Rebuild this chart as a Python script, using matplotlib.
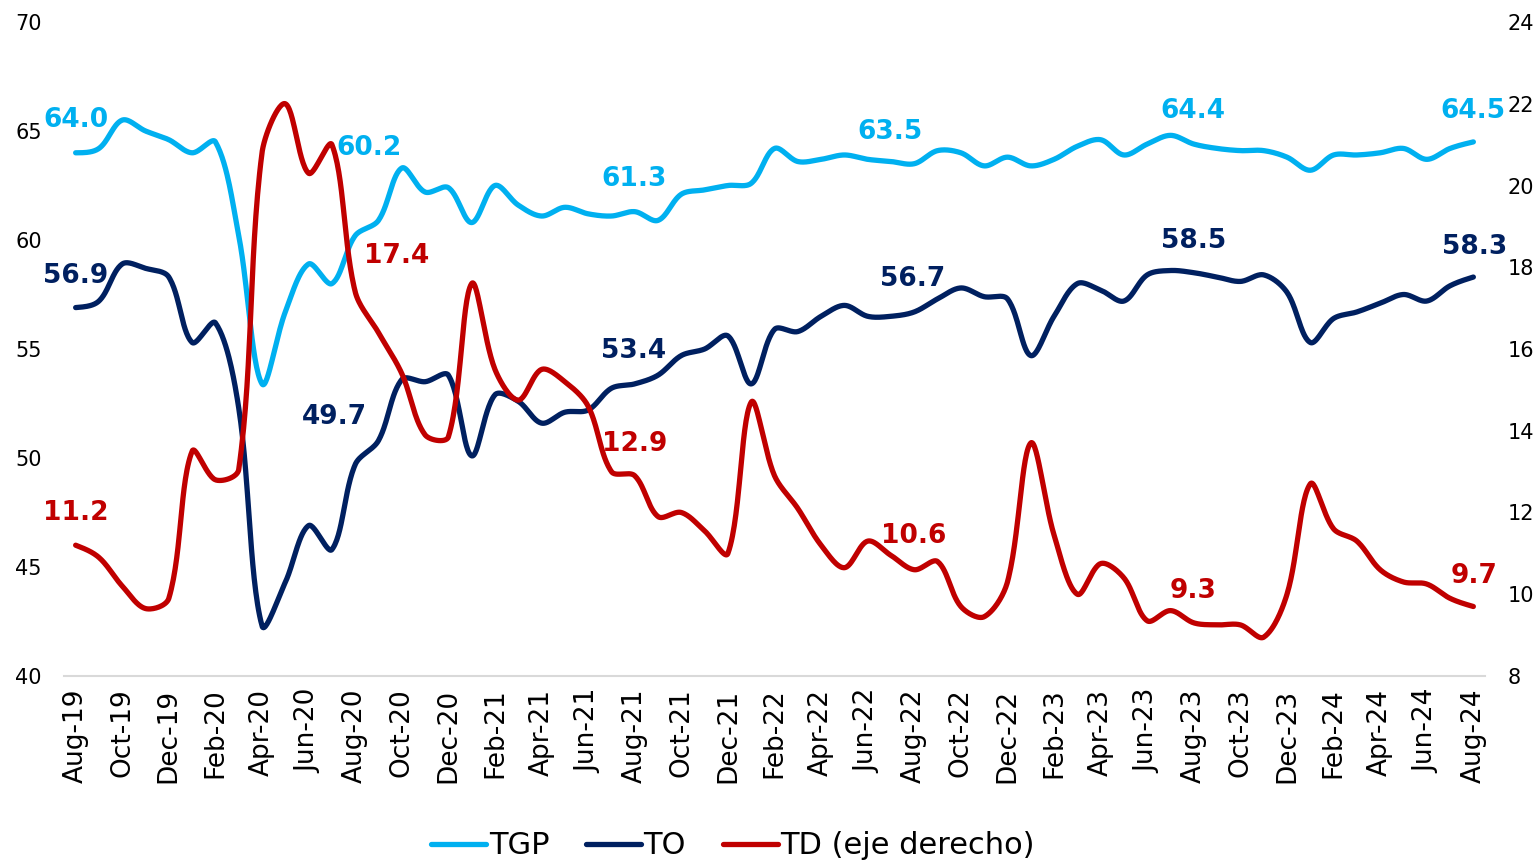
import matplotlib
matplotlib.use("Agg")
import matplotlib.pyplot as plt
import numpy as np

# monthly series, Aug-19 .. Aug-24
tgp = [64.0, 64.2, 65.5, 65.0, 64.6, 64.0, 64.5, 60.2, 53.4, 56.7,
       58.9, 58.0, 60.2, 60.9, 63.3, 62.2, 62.4, 60.8, 62.5, 61.6,
       61.1, 61.5, 61.2, 61.1, 61.3, 60.9, 62.1, 62.3, 62.5, 62.6,
       64.2, 63.6, 63.7, 63.9, 63.7, 63.6, 63.5, 64.1, 64.0, 63.4,
       63.8, 63.4, 63.7, 64.3, 64.6, 63.9, 64.4, 64.8, 64.4, 64.2,
       64.1, 64.1, 63.8, 63.2, 63.9, 63.9, 64.0, 64.2, 63.7, 64.2,
       64.5]
to = [56.9, 57.2, 58.9, 58.7, 58.3, 55.3, 56.2, 52.3, 42.3, 44.3,
      46.9, 45.8, 49.7, 50.8, 53.6, 53.5, 53.8, 50.1, 52.9, 52.6,
      51.6, 52.1, 52.2, 53.2, 53.4, 53.8, 54.7, 55.0, 55.6, 53.4,
      55.9, 55.8, 56.5, 57.0, 56.5, 56.5, 56.7, 57.3, 57.8, 57.4,
      57.3, 54.7, 56.5, 58.0, 57.7, 57.2, 58.4, 58.6, 58.5, 58.3,
      58.1, 58.4, 57.6, 55.3, 56.4, 56.7, 57.1, 57.5, 57.2, 57.9,
      58.3]
td = [11.2, 10.9, 10.2, 9.65, 9.9, 13.5, 12.8, 13.05, 20.8, 22.0,
      20.3, 21.0, 17.4, 16.4, 15.4, 13.9, 13.85, 17.6, 15.5, 14.75,
      15.5, 15.2, 14.6, 13.0, 12.9, 11.9, 12.0, 11.55, 11.0, 14.7,
      12.9, 12.1, 11.2, 10.65, 11.3, 10.95, 10.6, 10.8, 9.7, 9.45,
      10.3, 13.7, 11.45, 10.0, 10.75, 10.4, 9.35, 9.6, 9.3, 9.25,
      9.25, 8.95, 10.0, 12.7, 11.6, 11.3, 10.6, 10.3, 10.25, 9.9,
      9.7]

tick_labels = ["Aug-19", "Oct-19", "Dec-19", "Feb-20", "Apr-20", "Jun-20",
               "Aug-20", "Oct-20", "Dec-20", "Feb-21", "Apr-21", "Jun-21",
               "Aug-21", "Oct-21", "Dec-21", "Feb-22", "Apr-22", "Jun-22",
               "Aug-22", "Oct-22", "Dec-22", "Feb-23", "Apr-23", "Jun-23",
               "Aug-23", "Oct-23", "Dec-23", "Feb-24", "Apr-24", "Jun-24",
               "Aug-24"]

# august points that get a value label
label_idx = [0, 12, 24, 36, 48, 60]

C_TGP = "#00B0F0"
C_TO = "#002060"
C_TD = "#C00000"

# pixel size of one unit, used so the smoothing behaves like excel's
PX_X = 23.3
PX_LEFT = 21.8
PX_RIGHT = 40.875


def smooth(y, py, n=30, t=1 / 3):
    """bezier smoothing with control arms scaled by screen segment lengths"""
    P = np.column_stack([np.arange(len(y)) * PX_X, np.asarray(y, float) * py])
    m = len(P)
    c_in = P.copy()
    c_out = P.copy()
    for i in range(1, m - 1):
        d01 = np.hypot(*(P[i] - P[i - 1]))
        d12 = np.hypot(*(P[i + 1] - P[i]))
        v = P[i + 1] - P[i - 1]
        c_in[i] = P[i] - t * d01 / (d01 + d12) * v
        c_out[i] = P[i] + t * d12 / (d01 + d12) * v
    # end arms: aim at the neighbour's control point
    c_out[0] = P[0] + (c_in[1] - P[0]) / 2
    c_in[-1] = P[-1] + (c_out[-2] - P[-1]) / 2
    s = np.linspace(0, 1, n, endpoint=False)[:, None]
    segs = []
    for i in range(m - 1):
        b = ((1 - s) ** 3 * P[i] + 3 * (1 - s) ** 2 * s * c_out[i]
             + 3 * (1 - s) * s ** 2 * c_in[i + 1] + s ** 3 * P[i + 1])
        segs.append(b)
    segs.append(P[-1:])
    out = np.vstack(segs)
    return out[:, 0] / PX_X, out[:, 1] / py


x = np.arange(len(tgp))

fig = plt.figure(figsize=(15.37, 8.61), dpi=100)
ax = fig.add_axes([64 / 1537, 1 - 676 / 861, 1421 / 1537, 654 / 861])
ax2 = ax.twinx()

lw = 3.8
sx, sy = smooth(tgp, PX_LEFT)
l1, = ax.plot(sx, sy, color=C_TGP, lw=lw, solid_capstyle="round", label="TGP")
sx, sy = smooth(to, PX_LEFT)
l2, = ax.plot(sx, sy, color=C_TO, lw=lw, solid_capstyle="round", label="TO")
sx, sy = smooth(td, PX_RIGHT)
l3, = ax2.plot(sx, sy, color=C_TD, lw=lw, solid_capstyle="round",
               label="TD (eje derecho)")

ax.set_xlim(-0.5, 60.5)
ax.set_ylim(40, 70)
ax2.set_ylim(8, 24)
ax.set_yticks(range(40, 71, 5))
ax2.set_yticks(range(8, 25, 2))
ax.set_xticks(x[::2])
ax.set_xticklabels(tick_labels, rotation=90, fontsize=19)
ax.tick_params(axis="y", length=0, labelsize=15, pad=16)
ax2.tick_params(axis="y", length=0, labelsize=15, pad=16)
ax.tick_params(axis="x", length=0, pad=9)

for s in ["top", "left", "right"]:
    ax.spines[s].set_visible(False)
ax.spines["bottom"].set_color("#d9d9d9")
ax.spines["bottom"].set_linewidth(1.5)
for s in ax2.spines.values():
    s.set_visible(False)

# value labels (placed by hand, in left-axis units / right-axis units for TD)
tgp_pos = [(0, 65.64), (12.58, 64.36), (23.95, 62.94), (34.94, 65.09),
           (47.98, 66.06), (60.0, 66.06)]
to_pos = [(0, 58.49), (11.12, 52.02), (23.95, 55.05), (35.92, 58.35),
          (47.98, 60.09), (60.04, 59.82)]
td_pos = [(0, 12.06), (13.78, 18.35), (23.98, 13.75), (35.97, 11.5),
          (47.98, 10.15), (60.04, 10.52)]

for k, i in enumerate(label_idx):
    ax.text(*tgp_pos[k], f"{tgp[i]:.1f}", color=C_TGP, fontsize=19,
            fontweight="bold", ha="center", va="center_baseline")
    ax.text(*to_pos[k], f"{to[i]:.1f}", color=C_TO, fontsize=19,
            fontweight="bold", ha="center", va="center_baseline")
    ax2.text(*td_pos[k], f"{td[i]:.1f}", color=C_TD, fontsize=19,
             fontweight="bold", ha="center", va="center_baseline")

fig.legend([l1, l2, l3], ["TGP", "TO", "TD (eje derecho)"], loc="center",
           bbox_to_anchor=(733 / 1537, 1 - 846 / 861), ncol=3, frameon=False,
           fontsize=22, handlelength=1.8, handletextpad=0.08,
           columnspacing=1.2)

fig.savefig("out.png", dpi=100)
